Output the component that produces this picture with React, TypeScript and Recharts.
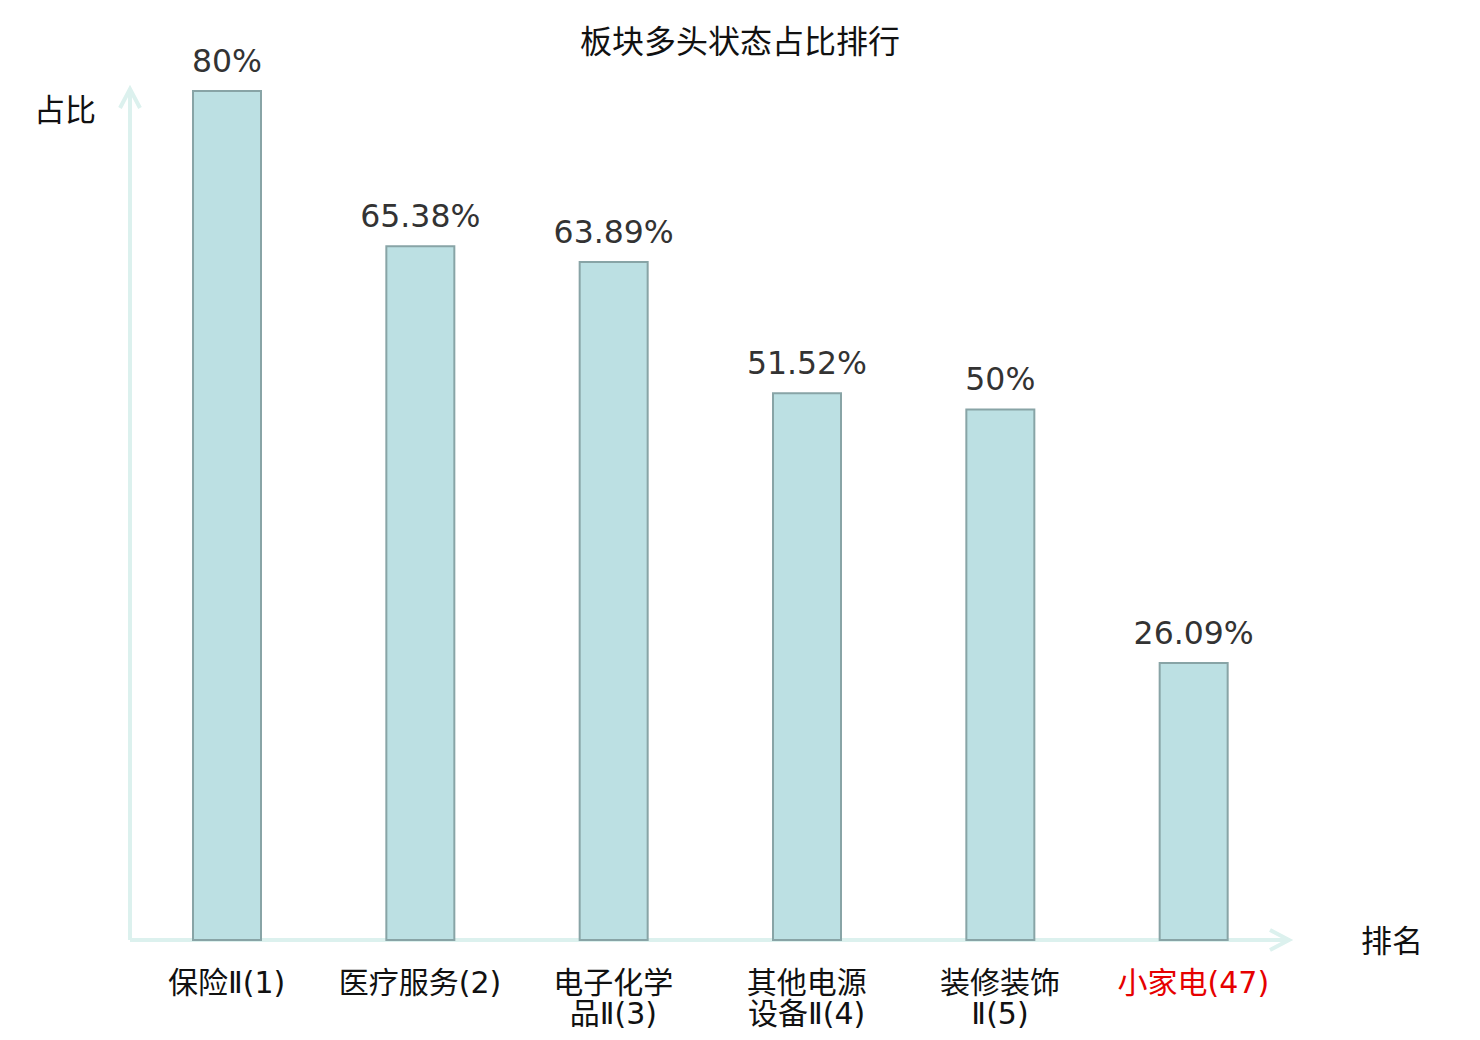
import React from 'react';
import { BarChart, Bar, XAxis, YAxis, LabelList, Customized } from 'recharts';

const categories = ['保险Ⅱ', '医疗服务', '电子化学品Ⅱ', '其他电源设备Ⅱ', '装修装饰Ⅱ', '小家电'];
const ranks = [1, 2, 3, 4, 5, 47];
const ratios = [80, 65.38, 63.89, 51.52, 50, 26.09];
const highlighted = '小家电';

const data = categories.map((name, i) => ({ name, rank: ranks[i], ratio: ratios[i] }));

const W = 1480;
const H = 1040;
const M = { top: 91, right: 190, bottom: 0, left: 130 };
const X_AXIS_H = 100;
const plotBottom = H - M.bottom - X_AXIS_H;
const plotRight = W - M.right;

const CJK = '"Noto Sans CJK SC", "Noto Sans", sans-serif';
const THIN = '"DejaVu Sans ExtraLight", "DejaVu Sans", sans-serif';
const AXIS_COLOR = '#dcf1ee';

// break names like 电子化学品Ⅱ after 4 chars
const wrapName = (name: string, rank: number) => {
  const full = `${name}(${rank})`;
  if (name.length <= 4) return [full];
  return [name.slice(0, 4), `${name.slice(4)}(${rank})`];
};

// split a line into ideograph runs and the rest (Ⅱ, digits, brackets)
const splitRuns = (s: string) => {
  const runs: { t: string; cjk: boolean }[] = [];
  for (const ch of s) {
    const cjk = /[\u4e00-\u9fff]/.test(ch);
    const last = runs[runs.length - 1];
    if (last && last.cjk === cjk) last.t += ch;
    else runs.push({ t: ch, cjk });
  }
  return runs;
};

const CategoryTick = ({ x, y, payload }: any) => {
  const row = data.find((d) => d.name === payload.value);
  const lines = wrapName(payload.value, row ? row.rank : 0);
  const color = payload.value === highlighted ? '#e60000' : '#111';
  return (
    <g>
      {lines.map((l, i) => (
        <text key={i} x={x} y={y + 53 + i * 31} textAnchor="middle" fill={color} fontSize={30} fontFamily={CJK}>
          {splitRuns(l).map((r, j) => (
            <tspan key={j} fontFamily={r.cjk ? CJK : THIN}>
              {r.t}
            </tspan>
          ))}
        </text>
      ))}
    </g>
  );
};

const Decorations = () => (
  <g>
    <text x={W / 2} y={53} textAnchor="middle" fontSize={32} fontFamily={CJK} fill="#111">
      板块多头状态占比排行
    </text>
    <line x1={M.left} y1={plotBottom} x2={M.left} y2={89} stroke={AXIS_COLOR} strokeWidth={4} />
    <polyline
      points={`${M.left - 10},108 ${M.left},89 ${M.left + 10},108`}
      fill="none"
      stroke={AXIS_COLOR}
      strokeWidth={4}
    />
    <line x1={M.left} y1={plotBottom} x2={plotRight - 1} y2={plotBottom} stroke={AXIS_COLOR} strokeWidth={4} />
    <polyline
      points={`${plotRight - 20},${plotBottom - 10} ${plotRight - 1},${plotBottom} ${plotRight - 20},${plotBottom + 10}`}
      fill="none"
      stroke={AXIS_COLOR}
      strokeWidth={4}
    />
    <text x={34} y={121} fontSize={31} fontFamily={CJK} fill="#111">
      占比
    </text>
    <text x={1361} y={952} fontSize={31} fontFamily={CJK} fill="#111">
      排名
    </text>
  </g>
);

export default function App() {
  return (
    <div style={{ position: 'absolute', left: 0, top: 0, width: W, height: H, background: '#fff' }}>
      <BarChart width={W} height={H} data={data} margin={M}>
        <Customized component={<Decorations />} />
        <XAxis
          dataKey="name"
          height={X_AXIS_H}
          axisLine={false}
          tickLine={false}
          tickSize={0}
          tickMargin={0}
          interval={0}
          tick={<CategoryTick />}
        />
        <YAxis hide domain={[0, 80]} width={0} />
        <Bar
          dataKey="ratio"
          barSize={68}
          fill="#bce0e3"
          stroke="#88a4a6"
          strokeWidth={2}
          isAnimationActive={false}
        >
          <LabelList
            dataKey="ratio"
            position="top"
            offset={19}
            formatter={(v: any) => `${v}%`}
            fill="#333"
            fontSize={31.5}
            fontFamily='"DejaVu Sans", sans-serif'
          />
        </Bar>
      </BarChart>
    </div>
  );
}
